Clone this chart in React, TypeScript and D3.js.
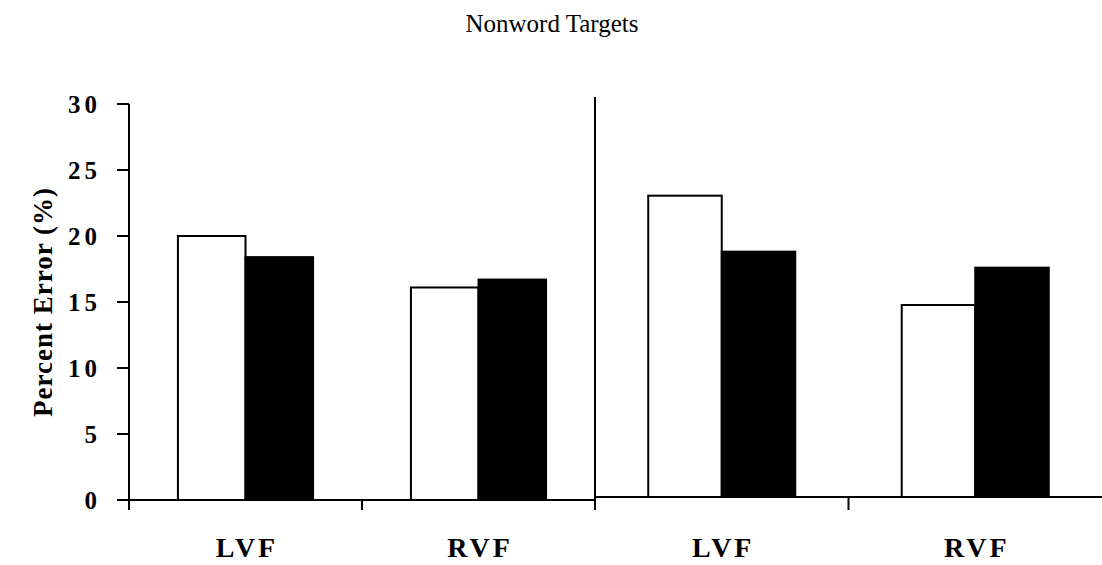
import React from "react";
import * as d3 from "d3";

const title = "Nonword Targets";
const yLabel = "Percent Error (%)";
const fields = ["LVF", "RVF"];
const series = ["white", "black"];
const leftValues = [
  [20.0, 18.4],
  [16.1, 16.7],
];
const rightValues = [
  [22.6, 18.4],
  [14.4, 17.2],
];
const yTicks = [0, 5, 10, 15, 20, 25, 30];

const FONT = "'Liberation Serif', 'Times New Roman', serif";

function Panel({ x0, x1, yBase, yTop, values, showAxis }: any) {
  const x = d3.scaleBand<string>().domain(fields).range([x0, x1]);
  const y = d3.scaleLinear().domain([0, 30]).range([yBase, yTop]);
  const bw = x.bandwidth() * 0.29;
  return (
    <g>
      {fields.map((f, i) => {
        const c = (x(f) as number) + x.bandwidth() / 2;
        return (
          <g key={f}>
            {series.map((s, j) => {
              const v = values[i][j];
              const bx = c - bw + j * bw;
              return (
                <rect
                  key={s}
                  x={bx}
                  y={y(v)}
                  width={bw}
                  height={yBase - y(v)}
                  fill={s === "black" ? "#000" : "#fff"}
                  stroke="#000"
                  strokeWidth={2}
                />
              );
            })}
            <text
              x={c + 1.5}
              y={557}
              textAnchor="middle"
              fontFamily={FONT}
              fontWeight="bold"
              fontSize={28}
              letterSpacing={3}
            >
              {f}
            </text>
          </g>
        );
      })}
      <line x1={x0} x2={x1} y1={yBase} y2={yBase} stroke="#000" strokeWidth={2} />
      <line x1={x0 + x.bandwidth()} x2={x0 + x.bandwidth()} y1={yBase} y2={510} stroke="#000" strokeWidth={2} />
      <line x1={x0} x2={x0} y1={yTop} y2={510} stroke="#000" strokeWidth={2} />
      {showAxis &&
        yTicks.map((t) => (
          <g key={t}>
            <line x1={x0 - 12} x2={x0} y1={y(t)} y2={y(t)} stroke="#000" strokeWidth={2} />
            <text
              x={x0 - 28}
              y={y(t)}
              dy="0.35em"
              textAnchor="end"
              fontFamily={FONT}
              fontWeight="bold"
              fontSize={25}
              letterSpacing={4}
            >
              {t}
            </text>
          </g>
        ))}
    </g>
  );
}

export default function App() {
  return (
    <svg
      width={1102}
      height={565}
      style={{ position: "absolute", left: 0, top: 0, background: "#fff" }}
    >
      <rect width={1102} height={565} fill="#fff" />
      <text x={552} y={32} textAnchor="middle" fontFamily={FONT} fontSize={25}>
        {title}
      </text>
      <text
        transform="translate(52,302) rotate(-90)"
        textAnchor="middle"
        fontFamily={FONT}
        fontWeight="bold"
        fontSize={27}
        letterSpacing={1}
      >
        {yLabel}
      </text>
      <Panel x0={129} x1={595} yBase={500} yTop={104} values={leftValues} showAxis={true} />
      <Panel x0={595} x1={1102} yBase={497} yTop={97} values={rightValues} showAxis={false} />
    </svg>
  );
}
